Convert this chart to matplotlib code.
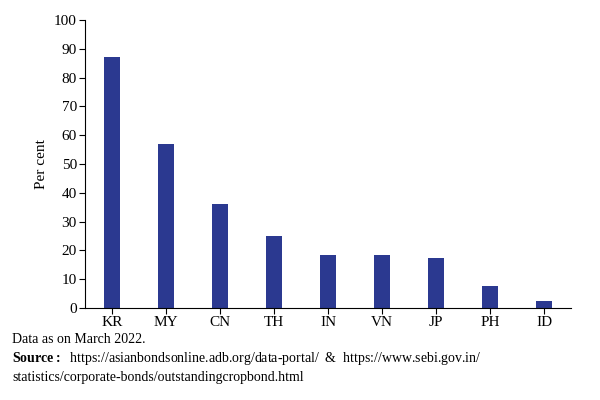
import matplotlib
matplotlib.use("Agg")
import matplotlib.pyplot as plt

categories = ["KR", "MY", "CN", "TH", "IN", "VN", "JP", "PH", "ID"]
values = [87, 57, 36, 25, 18.5, 18.5, 17.5, 7.5, 2.5]
yticks = list(range(0, 101, 10))

plt.rcParams['font.family'] = ['Liberation Serif', 'DejaVu Serif']
plt.rcParams['mathtext.fontset'] = 'custom'
plt.rcParams['mathtext.bf'] = 'Liberation Serif:bold'
plt.rcParams['mathtext.rm'] = 'Liberation Serif'
fig = plt.figure(figsize=(6, 4), dpi=100)
ax = fig.add_axes([0.142, 0.23, 0.81, 0.72])
ax.bar(range(len(categories)), values, width=0.3, color="#2b3990")
ax.set_xlim(-0.5, len(categories) - 0.5)
ax.set_ylim(0, 100)
ax.set_yticks(yticks)
ax.set_xticks(range(len(categories)))
ax.set_xticklabels(categories)
ax.tick_params(labelsize=11, length=4, pad=2)
ax.set_ylabel("Per cent", fontsize=11)
for s in ["top", "right"]:
    ax.spines[s].set_visible(False)

fig.text(0.02, 0.142, "Data as on March 2022.", fontsize=10)
fig.text(0.02, 0.095, r"$\bf{Source:}$  https://asianbondsonline.adb.org/data-portal/  &  https://www.sebi.gov.in/", fontsize=10)
fig.text(0.02, 0.047, "statistics/corporate-bonds/outstandingcropbond.html", fontsize=10)
fig.savefig("out.png", dpi=100)
